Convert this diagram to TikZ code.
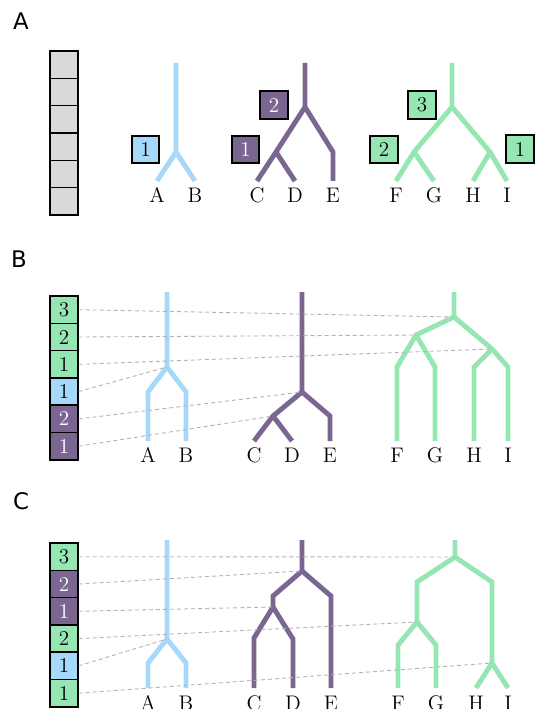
\documentclass[tikz,border=0pt]{standalone}
\usepackage{fontspec}
\newfontfamily\panelfont{DejaVu Sans}
\definecolor{skyblue}{RGB}{166,216,250}
\definecolor{plum}{RGB}{122,102,144}
\definecolor{mint}{RGB}{150,230,180}
\definecolor{cellgray}{RGB}{217,217,217}
\tikzset{
  branch/.style={line width=2.8pt},
  cell/.style={draw=black,line width=0.9pt,inner sep=0pt,minimum width=0.55cm,minimum height=0.546cm,font=\fontsize{12}{14}\selectfont},
  tag/.style={cell,minimum height=0.55cm},
  link/.style={draw=gray!60,line width=0.5pt,dash pattern=on 2.3pt off 1.7pt},
  leaf/.style={font=\fontsize{12}{14}\selectfont},
  panel/.style={font=\panelfont\fontsize{13}{15}\selectfont}
}
\begin{document}
\begin{tikzpicture}[x=0.02cm,y=-0.02cm]
\useasboundingbox (0,0) rectangle (534,709);

% ---- panel A
\node[panel] (pa) at (21,21) {A};
\foreach \i in {0,...,5}
  \node[cell,fill=cellgray] (ga\i) at (64,64.7+27.33*\i) {};
% blue tree
\coordinate (a-bt) at (176,63);
\coordinate (a-bs) at (176,152);
\coordinate (a-A) at (157,181);
\coordinate (a-B) at (195,181);
\draw[branch,skyblue] (a-bt) -- (a-bs) -- (a-A);
\draw[branch,skyblue] (a-bs) -- (a-B);
% purple tree
\coordinate (a-pt) at (305,63);
\coordinate (a-pr) at (305,107);
\coordinate (a-pl) at (276,152);
\coordinate (a-pe) at (333,152);
\coordinate (a-C) at (257,181);
\coordinate (a-D) at (295,181);
\coordinate (a-E) at (333,181);
\draw[branch,plum] (a-pt) -- (a-pr) -- (a-pl) -- (a-C);
\draw[branch,plum] (a-pl) -- (a-D);
\draw[branch,plum] (a-pr) -- (a-pe) -- (a-E);
% green tree
\coordinate (a-gt) at (452,63);
\coordinate (a-gr) at (452,107);
\coordinate (a-gl) at (414,152);
\coordinate (a-gg) at (490,152);
\coordinate (a-F) at (396,181);
\coordinate (a-G) at (434,181);
\coordinate (a-H) at (473,181);
\coordinate (a-I) at (507,181);
\draw[branch,mint] (a-gt) -- (a-gr) -- (a-gl) -- (a-F);
\draw[branch,mint] (a-gl) -- (a-G);
\draw[branch,mint] (a-gr) -- (a-gg) -- (a-I);
\draw[branch,mint] (a-gg) -- (a-H);
\foreach \n/\x in {A/157,B/195,C/257,D/295,E/333,F/396,G/434,H/473,I/507}
  \node[leaf] (la-\n) at (\x,195) {\n};
\node[tag,fill=skyblue] (ta-b1) at (145.5,149.5) {1};
\node[tag,fill=plum,text=white] (ta-p2) at (274,105) {2};
\node[tag,fill=plum,text=white] (ta-p1) at (245.5,149.5) {1};
\node[tag,fill=mint] (ta-g3) at (422,105) {3};
\node[tag,fill=mint] (ta-g2) at (384,149.5) {2};
\node[tag,fill=mint] (ta-g1) at (520,149) {1};

% ---- panel B
\node[panel] (pb) at (19,259) {B};
% blue tree
\coordinate (b-bt) at (167,292);
\coordinate (b-bs) at (167,367);
\coordinate (b-ba) at (148,392);
\coordinate (b-bb) at (186,392);
\coordinate (b-A) at (148,441);
\coordinate (b-B) at (186,441);
\draw[branch,skyblue] (b-bt) -- (b-bs) -- (b-ba) -- (b-A);
\draw[branch,skyblue] (b-bs) -- (b-bb) -- (b-B);
% purple tree
\coordinate (b-pt) at (302,292);
\coordinate (b-pr) at (302,392);
\coordinate (b-pl) at (273,416);
\coordinate (b-pe) at (330,416);
\coordinate (b-C) at (254,441);
\coordinate (b-D) at (292,441);
\coordinate (b-E) at (330,441);
\draw[branch,plum] (b-pt) -- (b-pr) -- (b-pl) -- (b-C);
\draw[branch,plum] (b-pl) -- (b-D);
\draw[branch,plum] (b-pr) -- (b-pe) -- (b-E);
% green tree
\coordinate (b-gt) at (454,292);
\coordinate (b-gr) at (454,317);
\coordinate (b-gl) at (416,335);
\coordinate (b-gg) at (492,349);
\coordinate (b-gf) at (397,367);
\coordinate (b-gh) at (435,367);
\coordinate (b-gi) at (474,367);
\coordinate (b-gj) at (508,367);
\coordinate (b-F) at (397,441);
\coordinate (b-G) at (435,441);
\coordinate (b-H) at (474,441);
\coordinate (b-I) at (508,441);
\draw[branch,mint] (b-gt) -- (b-gr) -- (b-gl) -- (b-gf) -- (b-F);
\draw[branch,mint] (b-gl) -- (b-gh) -- (b-G);
\draw[branch,mint] (b-gr) -- (b-gg) -- (b-gj) -- (b-I);
\draw[branch,mint] (b-gg) -- (b-gi) -- (b-H);
\foreach \n/\x in {A/148,B/186,C/254,D/292,E/330,F/397,G/435,H/474,I/508}
  \node[leaf] (lb-\n) at (\x,455) {\n};
% column
\node[cell,fill=mint] (cb1) at (64,309.7) {3};
\node[cell,fill=mint] (cb2) at (64,337) {2};
\node[cell,fill=mint] (cb3) at (64,364.3) {1};
\node[cell,fill=skyblue] (cb4) at (64,391.6) {1};
\node[cell,fill=plum,text=white] (cb5) at (64,418.9) {2};
\node[cell,fill=plum,text=white] (cb6) at (64,446.2) {1};
\draw[link] (cb1.east) -- (b-gr);
\draw[link] (cb2.east) -- (b-gl);
\draw[link] (cb3.east) -- (b-gg);
\draw[link] (cb4.east) -- (b-bs);
\draw[link] (cb5.east) -- (b-pr);
\draw[link] (cb6.east) -- (b-pl);

% ---- panel C
\node[panel] (pc) at (21,501) {C};
% blue tree
\coordinate (c-bt) at (167,540);
\coordinate (c-bs) at (167,639);
\coordinate (c-ba) at (148,663);
\coordinate (c-bb) at (186,663);
\coordinate (c-A) at (148,688);
\coordinate (c-B) at (186,688);
\draw[branch,skyblue] (c-bt) -- (c-bs) -- (c-ba) -- (c-A);
\draw[branch,skyblue] (c-bs) -- (c-bb) -- (c-B);
% purple tree
\coordinate (c-pt) at (302,540);
\coordinate (c-pr) at (302,571);
\coordinate (c-pk) at (273,596);
\coordinate (c-pl) at (273,607);
\coordinate (c-pe) at (331,596);
\coordinate (c-pc) at (254,638);
\coordinate (c-pd) at (293,639);
\coordinate (c-C) at (254,688);
\coordinate (c-D) at (293,688);
\coordinate (c-E) at (331,688);
\draw[branch,plum] (c-pt) -- (c-pr) -- (c-pk) -- (c-pl) -- (c-pc) -- (c-C);
\draw[branch,plum] (c-pl) -- (c-pd) -- (c-D);
\draw[branch,plum] (c-pr) -- (c-pe) -- (c-E);
% green tree
\coordinate (c-gt) at (455,540);
\coordinate (c-gr) at (455,557);
\coordinate (c-gk) at (417,582);
\coordinate (c-gl) at (417,622);
\coordinate (c-gf) at (398,645);
\coordinate (c-gh) at (436,645);
\coordinate (c-gm) at (492,582);
\coordinate (c-gg) at (492,663);
\coordinate (c-F) at (398,688);
\coordinate (c-G) at (436,688);
\coordinate (c-H) at (476,688);
\coordinate (c-I) at (508,688);
\draw[branch,mint] (c-gt) -- (c-gr) -- (c-gk) -- (c-gl) -- (c-gf) -- (c-F);
\draw[branch,mint] (c-gl) -- (c-gh) -- (c-G);
\draw[branch,mint] (c-gr) -- (c-gm) -- (c-gg) -- (c-I);
\draw[branch,mint] (c-gg) -- (c-H);
\foreach \n/\x in {A/148,B/186,C/254,D/293,E/331,F/398,G/436,H/476,I/508}
  \node[leaf] (lc-\n) at (\x,703) {\n};
% column
\node[cell,fill=mint] (cc1) at (64,556.7) {3};
\node[cell,fill=plum,text=white] (cc2) at (64,584) {2};
\node[cell,fill=plum,text=white] (cc3) at (64,611.3) {1};
\node[cell,fill=mint] (cc4) at (64,638.6) {2};
\node[cell,fill=skyblue] (cc5) at (64,665.9) {1};
\node[cell,fill=mint] (cc6) at (64,693.2) {1};
\draw[link] (cc1.east) -- (c-gr);
\draw[link] (cc2.east) -- (c-pr);
\draw[link] (cc3.east) -- (c-pl);
\draw[link] (cc4.east) -- (c-gl);
\draw[link] (cc5.east) -- (c-bs);
\draw[link] (cc6.east) -- (c-gg);
\end{tikzpicture}
\end{document}
